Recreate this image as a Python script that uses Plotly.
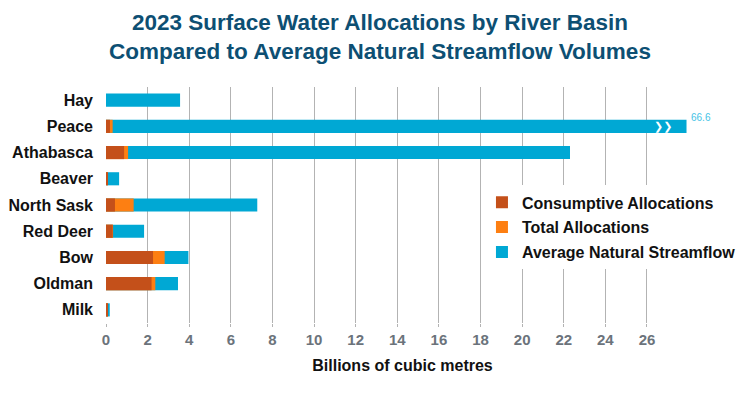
import plotly.graph_objects as go

basins = ["Hay", "Peace", "Athabasca", "Beaver", "North Sask", "Red Deer", "Bow", "Oldman", "Milk"]
consumptive = [0.0, 0.19, 0.87, 0.06, 0.43, 0.32, 2.26, 2.19, 0.06]
total_alloc = [0.0, 0.32, 1.06, 0.07, 1.33, 0.34, 2.82, 2.37, 0.07]
streamflow = [3.56, 66.6, 22.3, 0.63, 7.27, 1.83, 3.96, 3.46, 0.18]
axis_break = 27.9  # bars longer than this are drawn broken at this length
tick_vals = list(range(0, 27, 2))

shown_flow = [min(v, axis_break) for v in streamflow]

C_CONS = "#c4501a"
C_TOT = "#fd7f12"
C_FLOW = "#00a8d4"

fig = go.Figure()
fig.add_trace(go.Bar(y=basins, x=shown_flow, orientation="h", name="<b>Average Natural Streamflow</b>",
                     marker=dict(color=C_FLOW, line=dict(width=0)), width=0.5, legendrank=3,
                     legendgroup="c",
                     customdata=streamflow, hovertemplate="%{y}: %{customdata}<extra></extra>"))
fig.add_trace(go.Bar(y=basins, x=total_alloc, orientation="h", name="<b>Total Allocations</b>",
                     marker=dict(color=C_TOT, line=dict(width=0)), width=0.5, legendrank=2,
                     legendgroup="b"))
fig.add_trace(go.Bar(y=basins, x=consumptive, orientation="h", name="<b>Consumptive Allocations</b>",
                     marker=dict(color=C_CONS, line=dict(width=0)), width=0.5, legendrank=1,
                     legendgroup="a"))

# break marks and true value label for truncated bars
for b, v in zip(basins, streamflow):
    if v > axis_break:
        fig.add_annotation(x=axis_break - 1.15, y=b, text="<b>❯❯</b>", showarrow=False,
                           font=dict(color="white", size=11, family="DejaVu Sans"),
                           xanchor="center", yanchor="middle")
        fig.add_annotation(x=axis_break, y=b, text=f"{v}", showarrow=False,
                           font=dict(color="#45c3e6", size=10, family="Liberation Sans"),
                           xanchor="left", yanchor="bottom", xshift=2, yshift=1)

fig.update_layout(
    width=750, height=399,
    barmode="overlay",
    plot_bgcolor="white", paper_bgcolor="white",
    margin=dict(l=98, r=59, t=79, b=84),
    title=dict(text="<b>2023 Surface Water Allocations by River Basin<br>Compared to Average Natural Streamflow Volumes</b>",
               x=0.496, xanchor="center", yref="container", y=0.945, yanchor="middle",
               font=dict(family="Liberation Sans", size=22.5, color="#0d4f73")),
    font=dict(family="Liberation Sans"),
    legend=dict(x=0.634, y=0.405, xanchor="left", yanchor="middle", bgcolor="white",
                font=dict(size=16, color="#111111", family="Liberation Sans"),
                tracegroupgap=1, itemwidth=30),
    showlegend=True,
)
fig.update_xaxes(range=[0, 28.5], tickvals=tick_vals, ticktext=[f"<b>{t}</b>" for t in tick_vals],
                 showgrid=True, gridcolor="#b3b3b3", gridwidth=1, zeroline=False,
                 ticks="outside", ticklen=3, tickcolor="#b3b3b3",
                 tickfont=dict(size=15, color="#6b737b", family="Liberation Sans"),
                 title=dict(text="<b>Billions of cubic metres</b>", standoff=12,
                            font=dict(size=16, color="#111111", family="Liberation Sans")),
                 showline=False, automargin=False)
fig.update_yaxes(autorange="reversed", showgrid=False, ticks="", ticklabelstandoff=12,
                 automargin=False,
                 tickfont=dict(size=16, color="#111111", family="Liberation Sans"),
                 ticktext=[f"<b>{b}</b>" for b in basins], tickvals=basins)

fig.write_html("out.html")
